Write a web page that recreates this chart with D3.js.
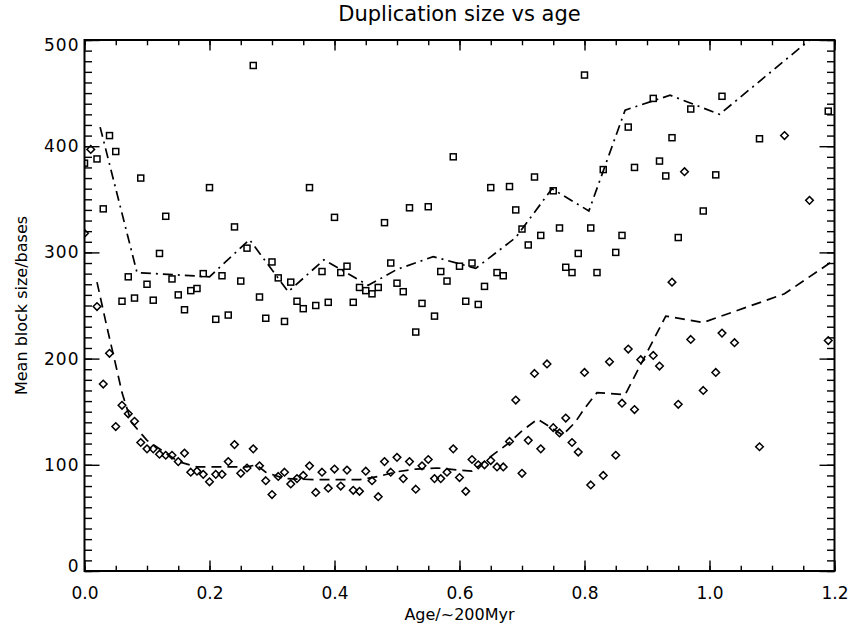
<!DOCTYPE html>
<html>
<head>
<meta charset="utf-8">
<script src="https://cdn.jsdelivr.net/npm/d3@7"></script>
<style>
  body { margin: 0; background: #fff; }
  text { font-family: "DejaVu Sans", sans-serif; fill: #000; }
</style>
</head>
<body>
<div id="chart"></div>
<script>
// squares: mean block size per age bin
const sqAge = [0.00,0.02,0.03,0.04,0.05,0.06,0.07,0.08,0.09,0.10,0.11,0.12,0.13,0.14,0.15,0.16,0.17,0.18,0.19,0.20,
  0.21,0.22,0.23,0.24,0.25,0.26,0.27,0.28,0.29,0.30,0.31,0.32,0.33,0.34,0.35,0.36,0.37,0.38,0.39,0.40,
  0.41,0.42,0.43,0.44,0.45,0.46,0.47,0.48,0.49,0.50,0.51,0.52,0.53,0.54,0.55,0.56,0.57,0.58,0.59,0.60,
  0.61,0.62,0.63,0.64,0.65,0.66,0.67,0.68,0.69,0.70,0.71,0.72,0.73,0.75,0.76,0.77,0.78,0.79,0.80,
  0.81,0.82,0.83,0.85,0.86,0.87,0.88,0.91,0.92,0.93,0.94,0.95,0.97,0.99,1.01,1.02,1.08,1.19];
const sqSize = [384,388,341,410,395,254,277,257,370,270,255,299,334,275,260,246,264,266,280,361,
  237,278,241,324,273,304,476,258,238,291,276,235,272,254,247,361,250,282,253,333,
  281,287,253,267,264,261,267,328,290,271,263,342,225,252,343,240,282,273,390,287,
  254,290,251,268,361,281,278,362,340,322,307,371,316,358,323,286,281,299,467,
  323,281,378,300,316,418,380,445,386,372,408,314,435,339,373,447,407,433];

// diamonds
const dmAge = [0.00,0.01,0.02,0.03,0.04,0.05,0.06,0.07,0.08,0.09,0.10,0.11,0.12,0.13,0.14,0.15,0.16,0.17,0.18,0.19,0.20,
  0.21,0.22,0.23,0.24,0.25,0.26,0.27,0.28,0.29,0.30,0.31,0.32,0.33,0.34,0.35,0.36,0.37,0.38,0.39,0.40,
  0.41,0.42,0.43,0.44,0.45,0.46,0.47,0.48,0.49,0.50,0.51,0.52,0.53,0.54,0.55,0.56,0.57,0.58,0.59,0.60,
  0.61,0.62,0.63,0.64,0.65,0.66,0.67,0.68,0.69,0.70,0.71,0.72,0.73,0.74,0.75,0.76,0.77,0.78,0.79,0.80,
  0.81,0.83,0.84,0.85,0.86,0.87,0.88,0.89,0.91,0.92,0.94,0.95,0.96,0.97,0.99,1.01,1.02,1.04,1.08,1.12,1.16,1.19];
const dmSize = [318,397,249,176,205,136,156,148,141,121,115,115,110,109,109,103,111,93,94,91,84,
  91,91,103,119,92,97,115,99,85,72,89,93,82,87,90,99,74,93,78,96,
  80,95,76,75,94,85,70,103,93,107,87,103,77,99,105,87,87,93,115,88,
  75,105,100,100,104,98,98,122,161,92,123,186,115,195,135,130,144,121,112,187,
  81,90,197,109,158,209,152,199,203,193,272,157,376,218,170,187,224,215,117,410,349,217];

// dash-dot trend (squares)
const ddAge = [0.025,0.084,0.20,0.264,0.326,0.383,0.454,0.50,0.558,0.626,0.69,0.748,0.807,0.865,0.937,1.016,1.156,1.19];
const ddSize = [418,281,277,312,263,293,269,284,296,285,314,360,339,434,448,430,498,515];

// dashed trend (diamonds)
const dsAge = [0.02,0.035,0.05,0.06,0.075,0.10,0.15,0.18,0.26,0.275,0.29,0.32,0.37,0.44,0.47,0.50,0.53,0.565,0.60,0.62,
  0.655,0.68,0.70,0.725,0.765,0.785,0.80,0.82,0.865,0.93,0.99,1.12,1.20];
const dsSize = [272,232,194,168,140,123,103,98,98,100,93,87,86,86,89,93.5,96,97,95,94,
  110,121,132,143,128,140,153,168,166,240,234,261,293];

const xTicks = [0, 0.2, 0.4, 0.6, 0.8, 1.0, 1.2];
const yTicks = [0, 100, 200, 300, 400, 500];

const W = 853, H = 631;
const box = { left: 84.5, right: 834.5, top: 40, bottom: 571 };

const svg = d3.select("#chart").append("svg")
  .attr("width", W).attr("height", H);

const x = d3.scaleLinear().domain([0, 1.2]).range([box.left, box.right]);
const y = d3.scaleLinear().domain([0, 500]).range([box.bottom, box.top]);

svg.append("clipPath").attr("id", "plot")
  .append("rect")
  .attr("x", box.left).attr("y", box.top)
  .attr("width", box.right - box.left).attr("height", box.bottom - box.top);

// tick lengths (inward)
const xMajor = 10.6, xMinor = 5.3, yMajor = 15, yMinor = 7.5;
const xMinorTicks = d3.range(0, 1.2001, 0.05);
const yMinorTicks = d3.range(0, 500.01, 10);

function styleAxis(g) {
  g.select(".domain").remove();
  g.selectAll("line").attr("stroke", "#000").attr("stroke-width", 1.4);
}

svg.append("g").attr("transform", `translate(0,${box.bottom})`)
  .call(d3.axisBottom(x).tickValues(xMinorTicks).tickSize(-xMinor).tickFormat(""))
  .call(styleAxis);
svg.append("g").attr("transform", `translate(0,${box.bottom})`)
  .call(d3.axisBottom(x).tickValues(xTicks).tickSize(-xMajor).tickPadding(16).tickFormat(d3.format(".1f")))
  .call(styleAxis)
  .selectAll("text").style("font-size", "17px").attr("fill", "#000");
svg.append("g").attr("transform", `translate(0,${box.top})`)
  .call(d3.axisTop(x).tickValues(xMinorTicks).tickSize(-xMinor).tickFormat(""))
  .call(styleAxis);
svg.append("g").attr("transform", `translate(0,${box.top})`)
  .call(d3.axisTop(x).tickValues(xTicks).tickSize(-xMajor).tickFormat(""))
  .call(styleAxis);

svg.append("g").attr("transform", `translate(${box.left},0)`)
  .call(d3.axisLeft(y).tickValues(yMinorTicks).tickSize(-yMinor).tickFormat(""))
  .call(styleAxis);
svg.append("g").attr("transform", `translate(${box.left},0)`)
  .call(d3.axisLeft(y).tickValues(yTicks).tickSize(-yMajor).tickPadding(5).tickFormat(d3.format("d")))
  .call(styleAxis)
  .selectAll("text")
  .style("font-size", "17px").style("letter-spacing", "1px").attr("fill", "#000")
  .attr("transform", d => d === 0 ? "translate(0,-5)" : d === 500 ? "translate(0,5)" : null);
svg.append("g").attr("transform", `translate(${box.right},0)`)
  .call(d3.axisRight(y).tickValues(yMinorTicks).tickSize(-yMinor).tickFormat(""))
  .call(styleAxis);
svg.append("g").attr("transform", `translate(${box.right},0)`)
  .call(d3.axisRight(y).tickValues(yTicks).tickSize(-yMajor).tickFormat(""))
  .call(styleAxis);

svg.append("rect")
  .attr("x", box.left).attr("y", box.top)
  .attr("width", box.right - box.left).attr("height", box.bottom - box.top)
  .attr("fill", "none").attr("stroke", "#000").attr("stroke-width", 2);

const plot = svg.append("g").attr("clip-path", "url(#plot)");

const line = d3.line().x(d => x(d[0])).y(d => y(d[1]));

plot.append("path")
  .datum(ddAge.map((a, i) => [a, ddSize[i]]))
  .attr("d", line)
  .attr("fill", "none").attr("stroke", "#000").attr("stroke-width", 1.7)
  .attr("stroke-dasharray", "10,5,2,5");

plot.append("path")
  .datum(dsAge.map((a, i) => [a, dsSize[i]]))
  .attr("d", line)
  .attr("fill", "none").attr("stroke", "#000").attr("stroke-width", 1.7)
  .attr("stroke-dasharray", "10,6");

const s = 3;
plot.selectAll(".sq")
  .data(sqAge.map((a, i) => [a, sqSize[i]]))
  .join("rect")
  .attr("class", "sq")
  .attr("x", d => x(d[0]) - s).attr("y", d => y(d[1]) - s)
  .attr("width", 2 * s).attr("height", 2 * s)
  .attr("fill", "none").attr("stroke", "#000").attr("stroke-width", 1.5);

const r = 3.8;
plot.selectAll(".dm")
  .data(dmAge.map((a, i) => [a, dmSize[i]]))
  .join("path")
  .attr("class", "dm")
  .attr("d", d => {
    const cx = x(d[0]), cy = y(d[1]);
    return `M${cx},${cy - r}L${cx + r},${cy}L${cx},${cy + r}L${cx - r},${cy}Z`;
  })
  .attr("fill", "none").attr("stroke", "#000").attr("stroke-width", 1.5);

svg.append("text")
  .attr("x", (box.left + box.right) / 2).attr("y", 21)
  .attr("text-anchor", "middle")
  .style("font-size", "21px")
  .text("Duplication size vs age");

svg.append("text")
  .attr("x", (box.left + box.right) / 2).attr("y", 620)
  .attr("text-anchor", "middle")
  .style("font-size", "16px")
  .text("Age/~200Myr");

svg.append("text")
  .attr("transform", `translate(27,${(box.top + box.bottom) / 2}) rotate(-90)`)
  .attr("text-anchor", "middle")
  .style("font-size", "16px")
  .text("Mean block size/bases");
</script>
</body>
</html>
